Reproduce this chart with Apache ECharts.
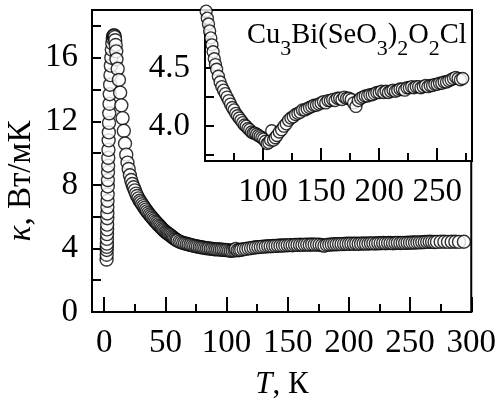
<!DOCTYPE html>
<html><head><meta charset="utf-8">
<script src="https://cdn.jsdelivr.net/npm/echarts@6/dist/echarts.min.js"></script>
<style>html,body{margin:0;padding:0;background:#fff}#c{width:499px;height:398px}</style>
</head><body><div id="c"></div>
<script>
// Temperature T (K) and thermal conductivity kappa (W/mK)
const temperatureK = [
  1.9,2.0,2.05,2.1,2.15,2.2,2.3,2.35,2.4,2.5,2.55,2.6,2.7,2.8,2.9,3.0,3.1,3.2,3.3,3.45,3.6,3.75,3.9,4.1,4.3,4.5,4.8,5.1,5.4,5.8,6.2,6.6,7.0,7.4,7.8,8.2,8.6,9.0,9.4,9.8,
  10,11,12,13,14,15,16,17,18,19,20,21,22,23,24,25,26,27,28,29,30,31,32,33,34,35,36,37,38,39,40,41,42,43,44,45,46,47,48,49,50,51,52,53,54,55,56,57,58,59,60,
  61.5,63,64.5,66,67.5,69,70.5,72,73.5,75,76.5,78,79.5,81,82.5,84,85.5,87,88.5,90,91.5,93,94.5,96,97.5,99,100.5,102,103.5,105,106.5,107.5,109,110.5,112,114,116,118,120,
  122,124,126,128,130,132,134,136,138,140,142,144,146,148,150,152,154,156,158,160,162,164,166,168,170,172,174,176,178,180,182,184,186,188,190,192,194,196,198,200,
  202,204,206,208,210,212,214,216,218,220,222,224,226,228,230,232,234,236,238,240,242,244,246,248,250,252,254,256,258,260,262,264,266,268,270,272,275,278,281,284,287,290,294
];
const conductivity = [
  3.3,3.6,3.9,4.1,4.3,4.6,4.9,5.2,5.5,5.9,6.2,6.6,7.0,7.4,7.9,8.3,8.8,9.2,9.7,10.2,10.8,11.3,11.9,12.5,13.1,13.7,14.3,14.9,15.5,16.0,16.5,16.9,17.2,17.35,17.4,17.4,17.3,17.1,16.8,16.4,
  15.9,15.3,14.6,13.8,13.0,12.2,11.4,10.6,9.9,9.4,9.0,8.6,8.3,8.05,7.85,7.65,7.45,7.3,7.15,7.0,6.9,6.78,6.66,6.55,6.44,6.33,6.23,6.13,6.04,5.95,5.86,5.77,5.68,5.6,5.51,5.43,5.35,5.27,5.19,5.12,5.05,4.99,4.93,4.88,4.82,4.76,4.7,4.64,4.58,4.53,4.49,
  4.43,4.38,4.34,4.31,4.28,4.25,4.22,4.19,4.16,4.14,4.11,4.09,4.07,4.05,4.03,4.01,4.0,3.98,3.97,3.95,3.94,3.94,3.93,3.92,3.91,3.9,3.89,3.87,3.85,3.86,3.88,3.96,3.88,3.9,3.92,3.95,3.97,4.0,4.02,
  4.05,4.07,4.08,4.1,4.11,4.12,4.14,4.14,4.15,4.16,4.17,4.18,4.18,4.19,4.2,4.21,4.2,4.22,4.22,4.23,4.22,4.24,4.24,4.23,4.25,4.24,4.24,4.23,4.2,4.17,4.22,4.24,4.25,4.26,4.26,4.27,4.27,4.28,4.29,4.29,
  4.3,4.29,4.3,4.29,4.3,4.31,4.3,4.31,4.32,4.32,4.31,4.33,4.33,4.34,4.33,4.34,4.34,4.33,4.34,4.35,4.34,4.35,4.35,4.36,4.36,4.37,4.37,4.38,4.38,4.39,4.4,4.41,4.42,4.41,4.4,4.41,4.42,4.42,4.41,4.42,4.42,4.41,4.42
];
const insetLastT = 272;

const mainXTickLabels = [0,50,100,150,200,250,300];
const mainXMinorTicks = [25,75,125,175,225,275];
const mainYTickLabels = [0,4,8,12,16];
const mainYTicks = [0,2,4,6,8,10,12,14,16,18];
const insetXTickLabels = [100,150,200,250];
const insetXMinorTicks = [75,125,175,225,275];
const insetYTickLabels = [4.0,4.5];
const insetYTicks = [3.75,4.0,4.25,4.5,4.75];

const formulaParts = [['Cu','3'],['Bi(SeO','3'],[')','2'],['O','2'],['Cl','']];
const yTitle = ['κ', ', Вт/мК'];
const xTitle = ['T', ', К'];

const mainData = temperatureK.map((t,i)=>[t, conductivity[i]]);
const insetData = mainData.filter(p => p[0] <= insetLastT);

const FONT = 'Liberation Serif';
const LBL = 33;
const black = '#000';

function valueAxis(extra){
  return Object.assign({
    type:'value', splitLine:{show:false},
    axisLine:{show:true, onZero:false, lineStyle:{color:black,width:2}},
    axisTick:{show:true, inside:true, lineStyle:{color:black,width:2}},
    axisLabel:{color:black, fontFamily:FONT, fontSize:LBL}
  }, extra);
}

const chart = echarts.init(document.getElementById('c'), null, {renderer:'canvas'});
chart.setOption({
  animation:false,
  backgroundColor:'#fff',
  grid:[
    {left:92, top:10, right:27, bottom:86, show:true, borderColor:black, borderWidth:2, backgroundColor:'transparent'},
    {left:205, top:10, right:27, bottom:237, show:true, borderColor:black, borderWidth:2, backgroundColor:'#fff', z:5}
  ],
  xAxis:[
    valueAxis({gridIndex:0, min:-10, max:300, position:'bottom',
      axisTick:{show:true, inside:true, length:15, customValues:mainXTickLabels, lineStyle:{color:black,width:2}},
      axisLabel:{color:black, fontFamily:FONT, fontSize:LBL, margin:15, customValues:mainXTickLabels}}),
    valueAxis({gridIndex:0, min:-10, max:300, position:'bottom',
      axisLine:{show:false},
      axisTick:{show:true, inside:true, length:8, customValues:mainXMinorTicks, lineStyle:{color:black,width:2}},
      axisLabel:{show:false}}),
    valueAxis({gridIndex:1, min:50, max:280, position:'bottom', z:6,
      axisTick:{show:true, inside:true, length:13, customValues:insetXTickLabels, lineStyle:{color:black,width:2}},
      axisLabel:{color:black, fontFamily:FONT, fontSize:LBL, margin:15, customValues:insetXTickLabels}}),
    valueAxis({gridIndex:1, min:50, max:280, position:'bottom', z:6,
      axisLine:{show:false},
      axisTick:{show:true, inside:true, length:8, customValues:insetXMinorTicks, lineStyle:{color:black,width:2}},
      axisLabel:{show:false}})
  ],
  yAxis:[
    valueAxis({gridIndex:0, min:0, max:19, position:'left',
      axisTick:{show:true, inside:true, length:9, customValues:mainYTicks, lineStyle:{color:black,width:2}},
      axisLabel:{color:black, fontFamily:FONT, fontSize:LBL, margin:14, customValues:mainYTickLabels}}),
    valueAxis({gridIndex:1, min:3.7, max:5.0, position:'left', z:6,
      axisTick:{show:true, inside:true, length:9, customValues:insetYTicks, lineStyle:{color:black,width:2}},
      axisLabel:{color:black, fontFamily:FONT, fontSize:LBL, margin:15, customValues:insetYTickLabels,
        formatter:v=>Number(v).toFixed(1)}})
  ],
  series:[
    {type:'scatter', xAxisIndex:0, yAxisIndex:0, data:mainData, symbol:'circle', symbolSize:13,
      itemStyle:{color:'#fff', borderColor:black, borderWidth:1.4}, silent:true},
    {type:'scatter', xAxisIndex:2, yAxisIndex:1, data:insetData, symbol:'circle', symbolSize:12, z:7,
      itemStyle:{color:'#fff', borderColor:black, borderWidth:1.4}, silent:true, clip:true}
  ],
  graphic:[
    {type:'text', x:21, y:181, rotation:Math.PI/2, z:10,
      style:{text:'{i|'+yTitle[0]+'}{n|'+yTitle[1]+'}', align:'center', verticalAlign:'middle', fill:black,
        rich:{i:{fontFamily:FONT, fontSize:33, fontStyle:'italic', fill:black}, n:{fontFamily:FONT, fontSize:33, fill:black}}}},
    {type:'text', x:282, y:385, z:10,
      style:{text:'{i|'+xTitle[0]+'}{n|'+xTitle[1]+'}', align:'center', verticalAlign:'middle', fill:black,
        rich:{i:{fontFamily:FONT, fontSize:31, fontStyle:'italic', fill:black}, n:{fontFamily:FONT, fontSize:31, fill:black}}}},
    {type:'text', x:247, y:36, z:10,
      style:{text: formulaParts.map(p => '{n|'+p[0]+'}' + (p[1] ? '{s|'+p[1]+'}' : '')).join(''),
        align:'left', verticalAlign:'middle', fill:black,
        rich:{n:{fontFamily:FONT, fontSize:28.5, fill:black}, s:{fontFamily:FONT, fontSize:22, fill:black, padding:[26,0,0,0]}}}}
  ]
});
</script></body></html>
